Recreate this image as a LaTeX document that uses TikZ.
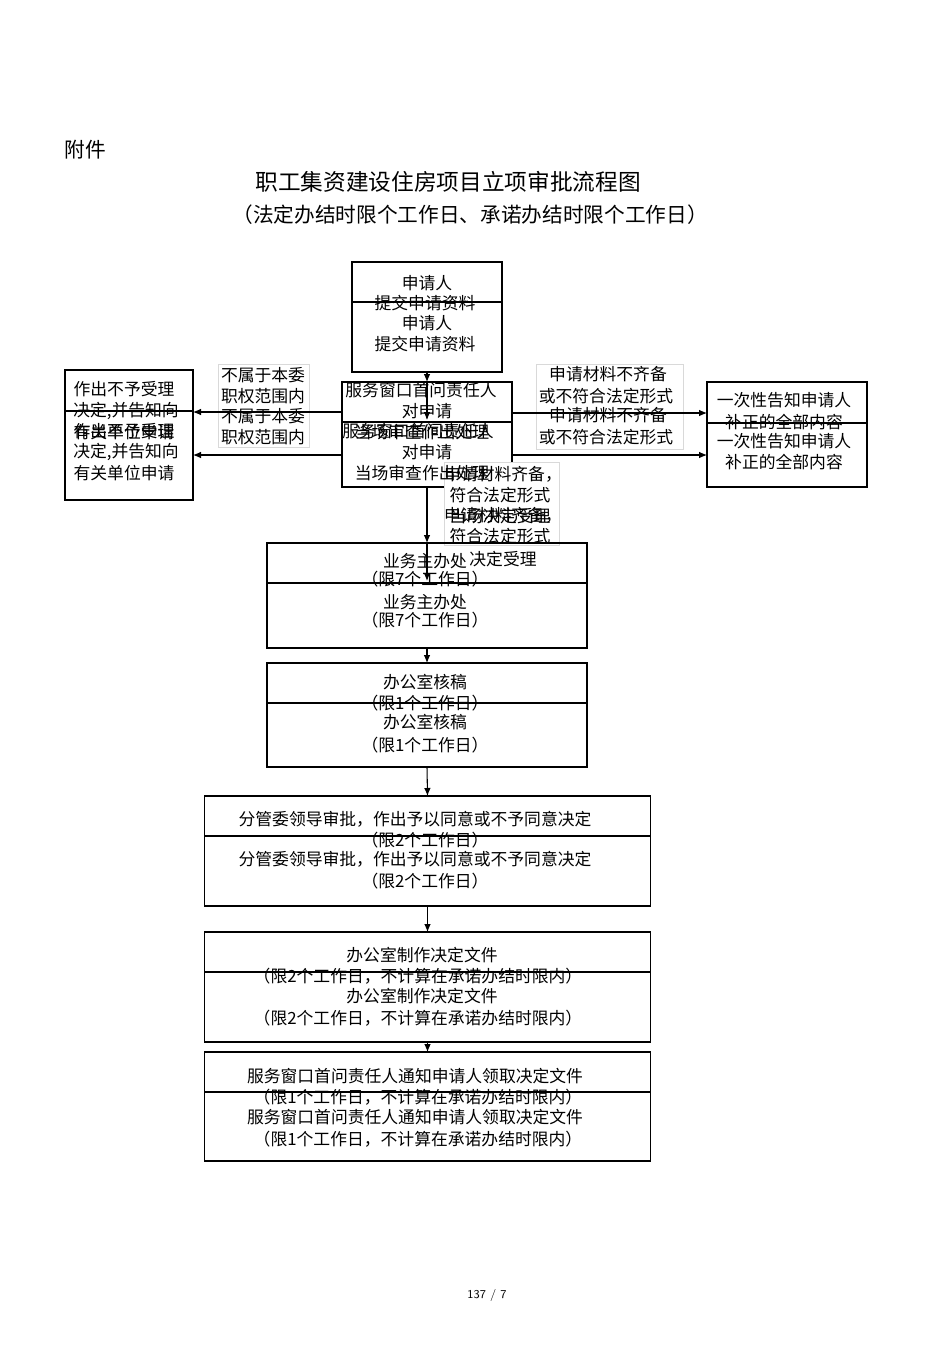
\documentclass[tikz,border=0pt]{standalone}
\usepackage{fontspec}
\newfontfamily\cjk{Noto Sans CJK SC}
\usetikzlibrary{arrows.meta}
\begin{document}
\begin{tikzpicture}[x=0.75pt,y=-0.75pt,
  bx/.style={draw,line width=0.8pt,inner sep=0,outer sep=0},
  tx/.style={font=\cjk\fontsize{12.6pt}{14pt}\selectfont,inner sep=0},
  lbl/.style={fill=white,draw=black!15,inner sep=0,outer sep=0},
  ar/.style={line width=0.8pt,-{Latex[length=6pt,width=5pt]}},
  ln/.style={line width=0.8pt}]
\useasboundingbox (0,0) rectangle (950,1345);
\node[tx,font=\cjk\fontsize{15.5pt}{17pt}\selectfont] (fj) at (85,150) {附件};
\node[tx,font=\cjk\fontsize{17pt}{19pt}\selectfont] (tt) at (448,182) {职工集资建设住房项目立项审批流程图};
\node[tx,font=\cjk\fontsize{15.5pt}{17pt}\selectfont] (st) at (470,215) {（法定办结时限个工作日、承诺办结时限个工作日）};
% labels backgrounds
\node[lbl,minimum width=68pt,minimum height=62pt] (ll) at (264,406) {};
\node[lbl,minimum width=110pt,minimum height=64pt] (rl) at (610,407) {};
% boxes
\node[bx,minimum width=112.5pt,minimum height=82.5pt] (A) at (427,317) {};
\node[bx,minimum width=127.5pt,minimum height=78.75pt] (B) at (427,434.5) {};
\node[bx,minimum width=96pt,minimum height=97.5pt] (C) at (129,435) {};
\node[bx,minimum width=120pt,minimum height=78.75pt] (D) at (787,434.5) {};
\node[lbl,minimum width=86pt,minimum height=62pt] (bl) at (502,504) {};
\node[bx,minimum width=240pt,minimum height=78.75pt] (E) at (427,595.5) {};
\node[bx,minimum width=240pt,minimum height=78pt] (F) at (427,715) {};
\node[bx,minimum width=335pt,minimum height=82.5pt] (G) at (427.5,851) {};
\node[bx,minimum width=335pt,minimum height=82.5pt] (H) at (427.5,987) {};
\node[bx,minimum width=335pt,minimum height=81.75pt] (I) at (427.5,1106.5) {};
% inner lines
\draw[ln] (352,302) -- (502,302);
\draw[ln] (342,422) -- (512,422);
\draw[ln] (65,411) -- (193,411);
\draw[ln] (707,423) -- (867,423);
\draw[ln] (267,583) -- (587,583);
\draw[ln] (267,703) -- (587,703);
\draw[ln] (204,836) -- (651,836);
\draw[ln] (204,972) -- (651,972);
\draw[ln] (204,1092) -- (651,1092);
% connectors
\draw[ar] (A.south) -- (B.north);
\draw[ar] (B.north) -- (427,420);
\draw[ar] (B.south) -- (E.north);
\draw[ar] (E.north) -- (427,581);
\draw[ar] (E.south) -- (F.north);
\draw[ar] (F.south) -- (G.north);
\draw[ar] (G.south) -- (H.north);
\draw[ar] (H.south) -- (I.north);
\draw[ar] (B.west |- 0,412) -- (C.east |- 0,412);
\draw[ar] (B.west |- 0,455) -- (C.east |- 0,455);
\draw[ar] (B.east |- 0,413) -- (D.west |- 0,413);
\draw[ar] (B.east |- 0,455) -- (D.west |- 0,455);
% texts
\node[tx] (a1) at (427,283) {申请人};
\node[tx] (a2) at (425,303) {提交申请资料};
\node[tx] (a3) at (427,323) {申请人};
\node[tx] (a4) at (425,344) {提交申请资料};
\node[tx] (b1) at (421,390) {服务窗口首问责任人};
\node[tx] (b2) at (427,411) {对申请};
\node[tx] (b3) at (418,431) {服务窗口首问责任人};
\node[tx] (b3b) at (422,432) {当场审查作出处理};
\node[tx] (b4) at (427,452) {对申请};
\node[tx] (b5) at (422,473) {当场审查作出处理};
\node[tx] (c1) at (124,389) {作出不予受理};
\node[tx] (c2) at (126,411) {决定,并告知向};
\node[tx] (c3) at (124,431) {作出不予受理};
\node[tx] (c3b) at (124,432) {有关单位申请};
\node[tx] (c4) at (126,452) {决定,并告知向};
\node[tx] (c5) at (124,473) {有关单位申请};
\node[tx] (l1) at (263,375) {不属于本委};
\node[tx] (l2) at (263,396) {职权范围内};
\node[tx] (l3) at (263,416) {不属于本委};
\node[tx] (l4) at (263,437) {职权范围内};
\node[tx] (r1) at (608,374) {申请材料不齐备};
\node[tx] (r2) at (606,396) {或不符合法定形式};
\node[tx] (r3) at (608,415) {申请材料不齐备};
\node[tx] (r4) at (606,437) {或不符合法定形式};
\node[tx] (d1) at (784,400) {一次性告知申请人};
\node[tx] (d2) at (784,422) {补正的全部内容};
\node[tx] (d3) at (784,441) {一次性告知申请人};
\node[tx] (d4) at (784,462) {补正的全部内容};
\node[tx] (m1) at (503,474) {申请材料齐备，};
\node[tx] (m2) at (500,495) {符合法定形式};
\node[tx] (m3) at (503,515) {申请材料齐备，};
\node[tx] (m3b) at (500,516) {当场决定受理};
\node[tx] (m4) at (500,536) {符合法定形式};
\node[tx] (m5) at (503,559) {决定受理};
\node[tx] (e1) at (425,561) {业务主办处};
\node[tx] (e2) at (425,579) {（限7个工作日）};
\node[tx] (e3) at (425,602) {业务主办处};
\node[tx] (e4) at (425,620) {（限7个工作日）};
\node[tx] (f1) at (425,682) {办公室核稿};
\node[tx] (f2) at (425,703) {（限1个工作日）};
\node[tx] (f3) at (425,722) {办公室核稿};
\node[tx] (f4) at (425,745) {（限1个工作日）};
\node[tx] (g1) at (415,819) {分管委领导审批，作出予以同意或不予同意决定};
\node[tx] (g2) at (425,840) {（限2个工作日）};
\node[tx] (g3) at (415,859) {分管委领导审批，作出予以同意或不予同意决定};
\node[tx] (g4) at (425,881) {（限2个工作日）};
\node[tx] (h1) at (422,955) {办公室制作决定文件};
\node[tx] (h2) at (418,976) {（限2个工作日，不计算在承诺办结时限内）};
\node[tx] (h3) at (422,996) {办公室制作决定文件};
\node[tx] (h4) at (418,1018) {（限2个工作日，不计算在承诺办结时限内）};
\node[tx] (i1) at (415,1076) {服务窗口首问责任人通知申请人领取决定文件};
\node[tx] (i2) at (418,1097) {（限1个工作日，不计算在承诺办结时限内）};
\node[tx] (i3) at (415,1117) {服务窗口首问责任人通知申请人领取决定文件};
\node[tx] (i4) at (418,1139) {（限1个工作日，不计算在承诺办结时限内）};
\node[tx,font=\sffamily\fontsize{9pt}{10pt}\selectfont] (pg) at (487,1295) {137 / 7};
\end{tikzpicture}
\end{document}
